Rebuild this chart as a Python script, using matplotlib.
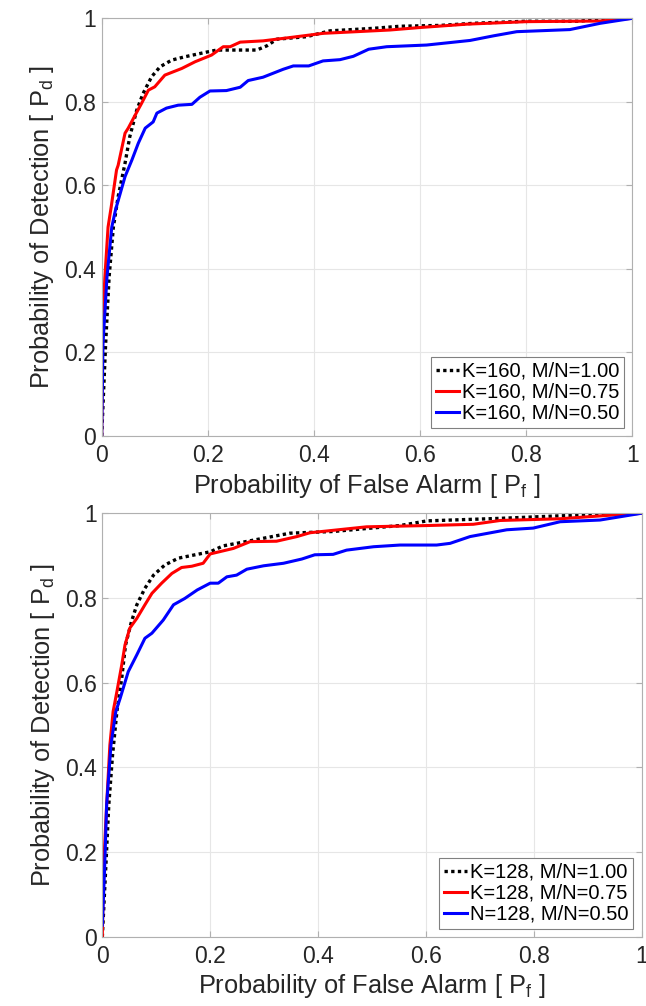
import matplotlib
matplotlib.use('Agg')
import matplotlib.pyplot as plt

plt.rcParams['font.family'] = ['Liberation Sans', 'DejaVu Sans']
plt.rcParams['mathtext.fontset'] = 'custom'
plt.rcParams['mathtext.rm'] = 'Liberation Sans'
plt.rcParams['mathtext.it'] = 'Liberation Sans'

# ---- top panel, K=160 ----
k160_full_pf = [0, 0.0075, 0.014, 0.022, 0.031, 0.044, 0.053, 0.066, 0.078, 0.094, 0.110, 0.132,
                0.157, 0.201, 0.217, 0.242, 0.292, 0.311, 0.330, 0.386, 0.430, 0.512, 0.562,
                0.638, 0.70, 0.80, 0.90, 0.95, 1.0]
k160_full_pd = [0, 0.222, 0.381, 0.50, 0.573, 0.653, 0.717, 0.780, 0.820, 0.860, 0.884, 0.900,
                0.908, 0.920, 0.924, 0.924, 0.924, 0.934, 0.950, 0.956, 0.970, 0.976, 0.981,
                0.983, 0.988, 0.993, 0.993, 1.0, 1.0]

k160_075_pf = [0, 0.002, 0.006, 0.012, 0.018, 0.028, 0.031, 0.044, 0.050, 0.063, 0.075, 0.088,
               0.100, 0.119, 0.151, 0.176, 0.207, 0.229, 0.242, 0.261, 0.304, 0.355, 0.417,
               0.480, 0.543, 0.600, 0.688, 0.80, 0.939, 1.0]
k160_075_pd = [0, 0.28, 0.38, 0.50, 0.549, 0.637, 0.648, 0.725, 0.737, 0.768, 0.796, 0.828,
               0.836, 0.864, 0.880, 0.896, 0.912, 0.932, 0.932, 0.943, 0.946, 0.954, 0.964,
               0.968, 0.972, 0.978, 0.986, 0.992, 0.9935, 1.0]

k160_050_pf = [0, 0.0025, 0.010, 0.019, 0.026, 0.044, 0.057, 0.069, 0.082, 0.097, 0.104, 0.122,
               0.144, 0.170, 0.185, 0.204, 0.235, 0.261, 0.276, 0.304, 0.342, 0.361, 0.390,
               0.417, 0.449, 0.474, 0.503, 0.537, 0.612, 0.694, 0.738, 0.782, 0.882, 0.939, 1.0]
k160_050_pd = [0, 0.222, 0.381, 0.50, 0.541, 0.621, 0.661, 0.701, 0.737, 0.752, 0.773, 0.785,
               0.792, 0.794, 0.811, 0.826, 0.827, 0.835, 0.851, 0.859, 0.878, 0.886, 0.886,
               0.898, 0.901, 0.909, 0.926, 0.932, 0.936, 0.947, 0.958, 0.968, 0.973, 0.988, 1.0]

# ---- bottom panel, K=128 ----
k128_full_pf = [0, 0.006, 0.012, 0.019, 0.027, 0.036, 0.043, 0.054, 0.064, 0.079, 0.095, 0.116,
                0.141, 0.172, 0.200, 0.224, 0.274, 0.348, 0.428, 0.552, 0.602, 0.738, 0.849,
                0.93, 1.0]
k128_full_pd = [0, 0.154, 0.312, 0.43, 0.532, 0.611, 0.689, 0.744, 0.784, 0.823, 0.854, 0.878,
                0.894, 0.902, 0.909, 0.923, 0.935, 0.953, 0.957, 0.971, 0.982, 0.988, 0.994,
                0.997, 1.0]

k128_075_pf = [0, 0.002, 0.008, 0.014, 0.020, 0.027, 0.036, 0.042, 0.051, 0.064, 0.079, 0.092,
               0.110, 0.129, 0.147, 0.166, 0.187, 0.200, 0.243, 0.274, 0.323, 0.361, 0.385,
               0.490, 0.602, 0.688, 0.738, 0.849, 0.948, 1.0]
k128_075_pd = [0, 0.154, 0.312, 0.453, 0.532, 0.579, 0.642, 0.689, 0.729, 0.752, 0.784, 0.811,
               0.835, 0.858, 0.872, 0.875, 0.882, 0.904, 0.917, 0.933, 0.934, 0.945, 0.954,
               0.968, 0.971, 0.974, 0.983, 0.987, 0.996, 1.0]

k128_050_pf = [0, 0.004, 0.008, 0.016, 0.025, 0.033, 0.048, 0.064, 0.079, 0.092, 0.113, 0.132,
               0.153, 0.176, 0.200, 0.215, 0.231, 0.249, 0.268, 0.299, 0.336, 0.370, 0.394,
               0.428, 0.453, 0.503, 0.552, 0.620, 0.645, 0.682, 0.750, 0.799, 0.849, 0.923, 1.0]
k128_050_pd = [0.028, 0.154, 0.312, 0.453, 0.532, 0.563, 0.626, 0.666, 0.705, 0.717, 0.748, 0.784,
               0.799, 0.819, 0.835, 0.835, 0.850, 0.854, 0.868, 0.876, 0.882, 0.892, 0.902,
               0.903, 0.913, 0.921, 0.925, 0.925, 0.929, 0.945, 0.961, 0.965, 0.980, 0.984, 1.0]

top_labels = ['K=160, M/N=1.00', 'K=160, M/N=0.75', 'K=160, M/N=0.50']
bottom_labels = ['K=128, M/N=1.00', 'K=128, M/N=0.75', 'N=128, M/N=0.50']
ticks = [0, 0.2, 0.4, 0.6, 0.8, 1]
tick_labels = ['0', '0.2', '0.4', '0.6', '0.8', '1']

fig = plt.figure(figsize=(6.46, 10.06), dpi=100)
ax1 = fig.add_axes([0.1574, 0.5666, 0.8217, 0.4152])
ax2 = fig.add_axes([0.1584, 0.0686, 0.8347, 0.4212])


def draw_panel(ax, curves, labels):
    styles = [dict(color='black', linestyle=(0, (1, 1)), linewidth=2.4),
              dict(color='#ff0000', linestyle='-', linewidth=2.2),
              dict(color='#0000ff', linestyle='-', linewidth=2.2)]
    for (pf, pd_), lab, st in zip(curves, labels, styles):
        ax.plot(pf, pd_, label=lab, **st)
    ax.set_xlim(0, 1)
    ax.set_ylim(0, 1)
    ax.set_xticks(ticks)
    ax.set_xticklabels(tick_labels)
    ax.set_yticks(ticks)
    ax.set_yticklabels(tick_labels)
    ax.grid(True, color='#e6e6e6', linewidth=0.8)
    ax.set_axisbelow(True)
    ax.tick_params(direction='in', top=True, right=True, labelsize=16.5,
                   color='#b0b0b0', length=4, labelcolor='#262626')
    ax.tick_params(axis='x', pad=6)
    ax.tick_params(axis='y', pad=4)
    for s in ax.spines.values():
        s.set_color('#b0b0b0')
        s.set_linewidth(0.8)
    ax.set_xlabel(r'Probability of False Alarm [ P$_\mathrm{f}$ ]', fontsize=18.3,
                  color='#262626', labelpad=3)
    ax.set_ylabel(r'Probability of Detection [ P$_\mathrm{d}$ ]', fontsize=18.3,
                  color='#262626', labelpad=6)
    leg = ax.legend(loc='lower right', fontsize=14.5, handlelength=1.15, handletextpad=0.15,
                    borderpad=0.25, labelspacing=0.1, borderaxespad=0.4,
                    fancybox=False, framealpha=1)
    leg.get_frame().set_edgecolor('#808080')
    leg.get_frame().set_linewidth(0.8)


draw_panel(ax1, [(k160_full_pf, k160_full_pd), (k160_075_pf, k160_075_pd),
                 (k160_050_pf, k160_050_pd)], top_labels)
draw_panel(ax2, [(k128_full_pf, k128_full_pd), (k128_075_pf, k128_075_pd),
                 (k128_050_pf, k128_050_pd)], bottom_labels)

fig.savefig('out.png', dpi=100)
